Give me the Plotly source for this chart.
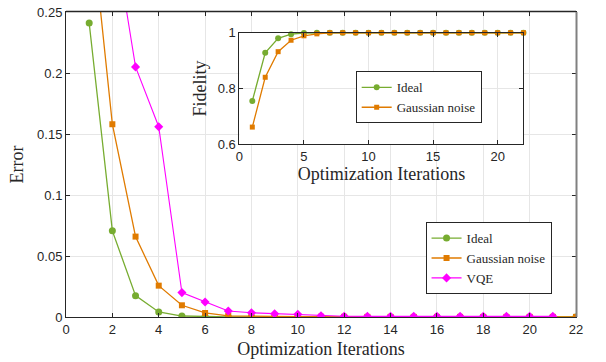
import plotly.graph_objects as go

iters = list(range(1, 23))
iters_vqe = list(range(1, 22))

err_ideal = [0.241, 0.0706, 0.0175, 0.0041, 0.0008, 0.0003, 0.0001, 0, 0, 0, 0, 0, 0, 0, 0, 0, 0, 0, 0, 0, 0, 0]
err_gauss = [0.340, 0.158, 0.0659, 0.0257, 0.0096, 0.0033, 0.0010, 0.0005, 0.0004, 0.0003, 0.0002, 0.0002,
             0.0001, 0.0001, 0.0001, 0.0001, 0.0001, 0.0001, 0.0001, 0.0001, 0.0001, 0.0001]
err_vqe = [0.45, 0.323, 0.205, 0.156, 0.020, 0.0123, 0.0049, 0.0035, 0.0027, 0.0022, 0.0010, 0.0006,
           0.0005, 0.0005, 0.0005, 0.0005, 0.0005, 0.0005, 0.0005, 0.0005, 0.0005]

fid_ideal = [0.755, 0.928, 0.980, 0.995, 0.999, 1.0, 1.0, 1.0, 1.0, 1.0, 1.0, 1.0, 1.0, 1.0, 1.0, 1.0,
             1.0, 1.0, 1.0, 1.0, 1.0, 1.0]
fid_gauss = [0.661, 0.840, 0.932, 0.973, 0.989, 0.996, 1.0, 1.0, 1.0, 1.0, 1.0, 1.0, 1.0, 1.0, 1.0, 1.0,
             1.0, 1.0, 1.0, 1.0, 1.0, 1.0]

main_xticks = list(range(0, 23, 2))
main_yticks = [0, 0.05, 0.1, 0.15, 0.2, 0.25]
main_yticklabels = ["0", "0.05", "0.1", "0.15", "0.2", "0.25"]
inset_xticks = [0, 5, 10, 15, 20]
inset_yticks = [0.6, 0.8, 1.0]
inset_yticklabels = ["0.6", "0.8", "1"]

GREEN = "#77AC30"
ORANGE = "#E07B00"
MAGENTA = "#FF00FF"
SERIF = "Liberation Serif, DejaVu Serif, serif"
SANS = "Liberation Sans, Arial, sans-serif"
AX = "#262626"

fig = go.Figure()

fig.add_trace(go.Scatter(x=iters, y=err_ideal, mode="lines+markers", name="Ideal",
                         line=dict(color=GREEN, width=1.3),
                         marker=dict(symbol="circle", size=7, color=GREEN),
                         xaxis="x", yaxis="y", legend="legend"))
fig.add_trace(go.Scatter(x=iters, y=err_gauss, mode="lines+markers", name="Gaussian noise",
                         line=dict(color=ORANGE, width=1.3),
                         marker=dict(symbol="square", size=6, color=ORANGE),
                         xaxis="x", yaxis="y", legend="legend"))
fig.add_trace(go.Scatter(x=iters_vqe, y=err_vqe, mode="lines+markers", name="VQE",
                         line=dict(color=MAGENTA, width=1.1),
                         marker=dict(symbol="diamond", size=7, color=MAGENTA),
                         xaxis="x", yaxis="y", legend="legend"))

fig.add_trace(go.Scatter(x=iters, y=fid_ideal, mode="lines+markers", name="Ideal",
                         line=dict(color=GREEN, width=1.3),
                         marker=dict(symbol="circle", size=6, color=GREEN),
                         xaxis="x2", yaxis="y2", legend="legend2", cliponaxis=False))
fig.add_trace(go.Scatter(x=iters, y=fid_gauss, mode="lines+markers", name="Gaussian noise",
                         line=dict(color=ORANGE, width=1.3),
                         marker=dict(symbol="square", size=5, color=ORANGE),
                         xaxis="x2", yaxis="y2", legend="legend2", cliponaxis=False))

axis_common = dict(showline=True, linecolor=AX, linewidth=1, mirror="ticks",
                   ticks="inside", ticklen=4, tickcolor=AX, showgrid=True,
                   gridcolor="#E6E6E6", gridwidth=1, zeroline=False, automargin=False,
                   tickfont=dict(family=SANS, size=13, color=AX))

TITLE_FONT = dict(family=SERIF, size=18, color=AX)

fig.update_layout(
    width=606, height=362,
    margin=dict(l=66, r=30, t=12, b=45, autoexpand=False),
    paper_bgcolor="white", plot_bgcolor="white",
    showlegend=True,
    xaxis=dict(axis_common, domain=[0, 1], range=[0, 22], tickvals=main_xticks,
               title=dict(text="Optimization Iterations", font=TITLE_FONT, standoff=6),
               anchor="y"),
    yaxis=dict(axis_common, domain=[0, 1], range=[0, 0.25], tickvals=main_yticks, ticktext=main_yticklabels,
               title=dict(text="Error", font=TITLE_FONT, standoff=8),
               anchor="x"),
    xaxis2=dict(axis_common, domain=[0.340, 0.897], range=[0, 22], tickvals=inset_xticks,
                title=dict(text="Optimization Iterations", font=TITLE_FONT, standoff=0),
                anchor="y2"),
    yaxis2=dict(axis_common, domain=[0.567, 0.932], range=[0.6, 1.0], tickvals=inset_yticks,
                ticktext=inset_yticklabels,
                title=dict(text="Fidelity", font=TITLE_FONT, standoff=6),
                anchor="x2"),
    legend=dict(x=0.705, y=0.193, xanchor="left", yanchor="middle",
                bgcolor="white", bordercolor=AX, borderwidth=1,
                font=dict(family=SERIF, size=13, color=AX),
                tracegroupgap=0, itemwidth=30),
    legend2=dict(x=0.568, y=0.72, xanchor="left", yanchor="middle",
                 bgcolor="white", bordercolor=AX, borderwidth=1,
                 font=dict(family=SERIF, size=13, color=AX),
                 tracegroupgap=0, itemwidth=30),
    shapes=[
        dict(type="line", xref="paper", yref="paper", x0=0, x1=1, y0=1.002, y1=1.002,
             line=dict(color=AX, width=1.5), layer="above"),
        dict(type="line", xref="paper", yref="paper", x0=1.001, x1=1.001, y0=0, y1=1,
             line=dict(color="#808080", width=2), layer="above"),
    ],
)

fig.write_html("out.html", post_script="document.body.style.margin='0px';",
               config={"displayModeBar": False})
